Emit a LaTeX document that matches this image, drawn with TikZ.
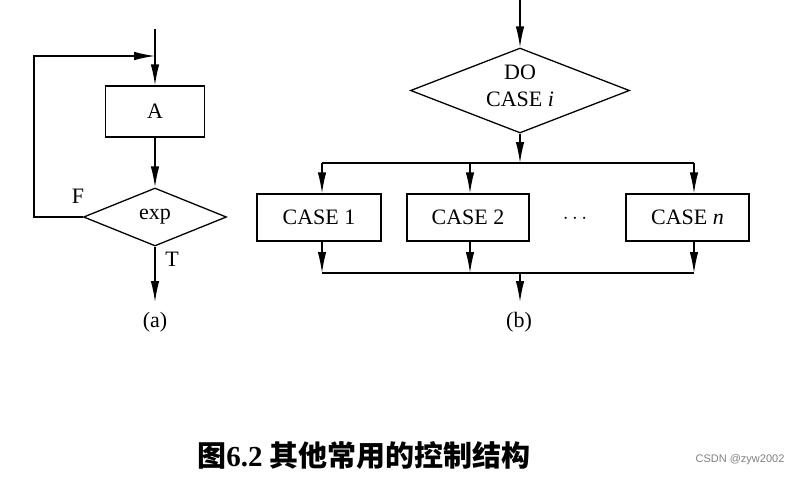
\documentclass[tikz,border=0pt]{standalone}
\usepackage{fontspec}
\setmainfont{Liberation Serif}
\newfontfamily\cjk{Noto Sans CJK SC}
\newfontfamily\wmfont{Liberation Sans}
\usetikzlibrary{shapes.geometric,arrows.meta}
\begin{document}
\begin{tikzpicture}[x=1pt,y=-1pt,
  line width=1.3pt,
  every node/.style={font=\fontsize{22}{27}\selectfont},
  arr/.style={-{Latex[length=21pt,width=8.5pt]}},
  boxnode/.style={draw,rectangle,inner sep=0pt},
  dia/.style={draw,diamond,inner sep=0pt},
  lbl/.style={inner sep=0pt}]
\useasboundingbox (0,0) rectangle (799,477);
% ---------- (a) ----------
\coordinate (atop) at (155,29);
\coordinate (fb) at (155,56);
\coordinate (fbl) at (34,56);
\node[boxnode,minimum width=99pt,minimum height=51pt] (A) at (155,111.5) {A};
\node[dia,aspect=2.47,minimum width=143pt,minimum height=58pt] (exp) at (155,217) {exp};
\coordinate (aend) at (155,302);
\draw[arr] (atop) -- (A.north);
\draw[arr] (A.south) -- (exp.north);
\draw[arr] (exp.west) -| (fbl) -- (fb);
\draw[arr] (exp.south) -- (aend);
\node[lbl] (F) at (78,196) {F};
\node[lbl] (T) at (172,259) {T};
\node[lbl] (la) at (155,322) {(a)};
% ---------- (b) ----------
\coordinate (btop) at (520,0);
\node[dia,aspect=2.58,minimum width=219pt,minimum height=85pt] (do) at (520,90.5) {};
\node[lbl,align=center] (dotext) at (520,86) {DO\\CASE \textit{i}};
\coordinate (bus1) at (520,163);
\coordinate (b1t) at (322,163);
\coordinate (b2t) at (470,163);
\coordinate (bnt) at (694,163);
\node[boxnode,minimum width=124pt,minimum height=47pt] (c1) at (319,217.5) {CASE 1};
\node[boxnode,minimum width=122pt,minimum height=47pt] (c2) at (468,217.5) {CASE 2};
\node[lbl] (dots) at (575,219) {$\cdots$};
\node[boxnode,minimum width=123pt,minimum height=47pt] (cn) at (687.5,217.5) {CASE \textit{n}};
\coordinate (b1b) at (322,273);
\coordinate (b2b) at (470,273);
\coordinate (bnb) at (694,273);
\coordinate (bus2) at (520,273);
\coordinate (bend) at (520,302);
\draw[arr] (btop) -- (do.north);
\draw[arr] (do.south) -- (bus1);
\draw (b1t) -- (bnt);
\draw[arr] (b1t) -- (b1t |- c1.north);
\draw[arr] (b2t) -- (b2t |- c2.north);
\draw[arr] (bnt) -- (bnt |- cn.north);
\draw[arr] (b1b |- c1.south) -- (b1b);
\draw[arr] (b2b |- c2.south) -- (b2b);
\draw[arr] (bnb |- cn.south) -- (bnb);
\draw (b1b) -- (bnb);
\draw[arr] (bus2) -- (bend);
\node[lbl] (lb) at (519,322) {(b)};
% ---------- title ----------
\node[lbl,font=\fontsize{29}{32}\selectfont] (title) at (364,455) {{\cjk\bfseries 图}{\bfseries 6.2} {\cjk\bfseries 其他常用的控制结构}};
\node[lbl,font=\fontsize{11}{12}\selectfont\wmfont,text=gray] (wm) at (740,460) {CSDN @zyw2002};
\end{tikzpicture}
\end{document}
